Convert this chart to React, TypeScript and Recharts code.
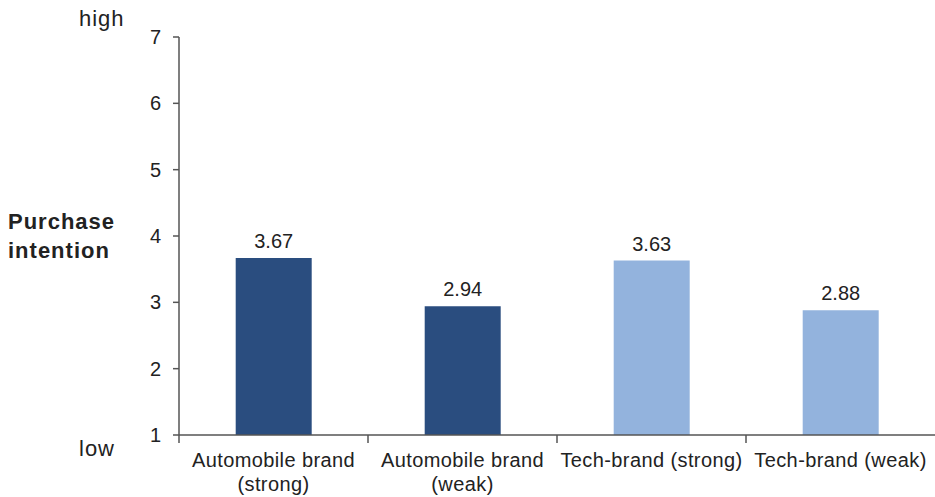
import React from "react";
import { BarChart, Bar, XAxis, YAxis, Cell, LabelList } from "recharts";

const categories = [
  ["Automobile brand", "(strong)"],
  ["Automobile brand", "(weak)"],
  ["Tech-brand (strong)"],
  ["Tech-brand (weak)"],
];
const values = [3.67, 2.94, 3.63, 2.88];
const barColors = ["#2A4D7F", "#2A4D7F", "#93B3DD", "#93B3DD"];
const yTicks = [1, 2, 3, 4, 5, 6, 7];

const data = categories.map((c, i) => ({ name: c.join(" "), lines: c, value: values[i], color: barColors[i] }));

const FONT = "'Liberation Sans', Arial, Helvetica, sans-serif";
const TEXT = "#222";
const AXIS = "#555";

const CatTick = (props: any) => {
  const { x, y, payload, index } = props;
  const off = payload && payload.offset ? payload.offset : 94.5;
  const lines = data[index] ? data[index].lines : [String(payload.value)];
  return (
    <g>
      <line x1={x - off} x2={x - off} y1={y} y2={y + 8} stroke={AXIS} strokeWidth={1.5} />
      <text x={x} y={y + 32} textAnchor="middle" fontFamily={FONT} fontSize={20} fill={TEXT} style={{ letterSpacing: "0.4px" }}>
        {lines.map((l: string, k: number) => (
          <tspan key={k} x={x} dy={k === 0 ? 0 : 24}>
            {l}
          </tspan>
        ))}
      </text>
    </g>
  );
};

export default function App() {
  return (
    <div style={{ position: "absolute", left: 0, top: 0, width: 935, height: 497, background: "#fff" }}>
      <BarChart
        width={935}
        height={497}
        data={data}
        margin={{ top: 37, right: 0, bottom: 0, left: 0 }}
        barCategoryGap="30%"
      >
        <XAxis
          dataKey="name"
          height={62}
          interval={0}
          tickLine={false}
          tickSize={0}
          tickMargin={0}
          axisLine={{ stroke: AXIS, strokeWidth: 1.5 }}
          tick={<CatTick />}
        />
        <YAxis
          width={179}
          domain={[1, 7]}
          ticks={yTicks}
          interval={0}
          tickSize={6}
          tickMargin={12}
          axisLine={{ stroke: AXIS, strokeWidth: 1.5 }}
          tickLine={{ stroke: AXIS, strokeWidth: 1.5 }}
          tick={{ fontFamily: FONT, fontSize: 20, fill: TEXT }}
        />
        <Bar dataKey="value" isAnimationActive={false}>
          {data.map((d, i) => (
            <Cell key={i} fill={d.color} />
          ))}
          <LabelList dataKey="value" position="top" offset={10} fontFamily={FONT} fontSize={20} fill={TEXT} formatter={(v: any) => Number(v).toFixed(2)} />
        </Bar>
      </BarChart>
      <svg width={935} height={497} style={{ position: "absolute", left: 0, top: 0, pointerEvents: "none" }}>
        <text x={79} y={26} fontFamily={FONT} fontSize={22} fill={TEXT} style={{ letterSpacing: "1px" }}>high</text>
        <text x={79} y={456} fontFamily={FONT} fontSize={22} fill={TEXT} style={{ letterSpacing: "1px" }}>low</text>
        <text x={8} y={229} fontFamily={FONT} fontSize={22} fontWeight="bold" fill={TEXT} style={{ letterSpacing: "1px" }}>Purchase</text>
        <text x={8} y={258} fontFamily={FONT} fontSize={22} fontWeight="bold" fill={TEXT} style={{ letterSpacing: "1px" }}>intention</text>
      </svg>
    </div>
  );
}
